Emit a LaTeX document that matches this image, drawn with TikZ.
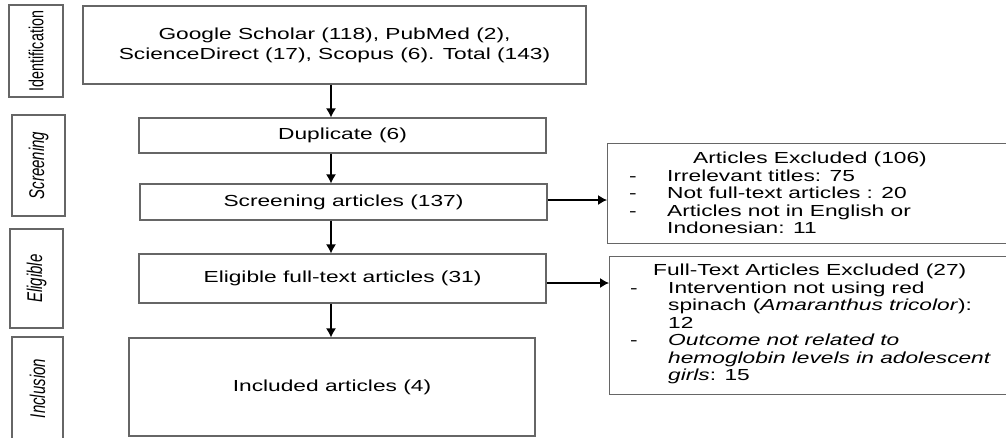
\documentclass[tikz,border=0pt]{standalone}
\usepackage{fontspec}
\setmainfont{Liberation Sans}[FakeStretch=1.42]
\usetikzlibrary{arrows.meta,positioning}
\tikzset{
	flowbox/.style={draw=black!60, line width=1.2pt, inner sep=0pt, align=center, font=\fontsize{16}{20}\selectfont},
	sidebox/.style={draw=black!60, line width=1.2pt, inner sep=0pt, rotate=90, font=\fontsize{15}{18}\selectfont},
	exbox/.style={draw=black!60, line width=1.2pt, inner sep=0pt, anchor=north west},
	extext/.style={inner sep=0pt, align=left, anchor=north west, font=\fontsize{16}{17.5}\selectfont},
	flowarrow/.style={-{Latex[length=9pt,width=10pt]}, line width=1.2pt}
}
\newfontfamily\sidefont{Liberation Sans}
\newcommand{\sidelabel}[1]{\scalebox{1}[1.42]{\sidefont #1}}
\newcommand{\exdash}{\makebox[38pt][l]{-}}
\newcommand{\exgap}{\hspace*{38pt}}
\begin{document}
\begin{tikzpicture}[x=1pt,y=-1pt]
	\useasboundingbox (0,0) rectangle (1006,437);
	% stage labels
	\node[sidebox, minimum width=92pt, minimum height=54pt] (sideid) at (36,51) {\sidelabel{\fontsize{14.3}{17}\selectfont Identification}};
	\node[sidebox, minimum width=101pt, minimum height=53pt] (sidescr) at (38.5,165.5) {\sidelabel{\itshape Screening}};
	\node[sidebox, minimum width=99pt, minimum height=53pt] (sideelig) at (36.5,278.5) {\sidelabel{\itshape Eligible}};
	\node[sidebox, minimum width=103pt, minimum height=51pt] (sideincl) at (37.5,388.5) {\sidelabel{\itshape Inclusion}};
	% flow
	\node[flowbox, minimum width=503pt, minimum height=78pt] (google) at (334.5,45) {Google Scholar (118), PubMed (2),\\ScienceDirect (17), Scopus (6). Total (143)};
	\node[flowbox, minimum width=407pt, minimum height=35pt] (dup) at (342.5,135.5) {Duplicate (6)};
	\node[flowbox, minimum width=407pt, minimum height=36pt] (scr) at (343.5,202) {Screening articles (137)};
	\node[flowbox, minimum width=407pt, minimum height=49pt] (elig) at (342.5,278.5) {Eligible full-text articles (31)};
	\node[flowbox, minimum width=406pt, minimum height=98pt] (incl) at (332,387) {Included articles (4)};
	% excluded
	\node[exbox, minimum width=410pt, minimum height=100pt] (exc1) at (607,143) {};
	\node[extext] (exc1txt) at (629,152) {\hspace*{64pt}Articles Excluded (106)\\
		\exdash Irrelevant titles: 75\\
		\exdash Not full-text articles : 20\\
		\exdash Articles not in English or\\
		\exgap Indonesian: 11};
	\node[exbox, minimum width=410pt, minimum height=138pt] (exc2) at (609,256) {};
	\node[extext] (exc2txt) at (630,264) {\hspace*{23pt}Full-Text Articles Excluded (27)\\
		\exdash Intervention not using red\\
		\exgap spinach (\textit{Amaranthus tricolor}):\\
		\exgap 12\\
		\exdash \textit{Outcome not related to}\\
		\exgap \textit{hemoglobin levels in adolescent}\\
		\exgap \textit{girls}: 15};
	% arrows
	\coordinate (spine) at (331,0);
	\draw[flowarrow] (google.south -| spine) -- (dup.north -| spine);
	\draw[flowarrow] (dup.south -| spine) -- (scr.north -| spine);
	\draw[flowarrow] (scr.south -| spine) -- (elig.north -| spine);
	\draw[flowarrow] (elig.south -| spine) -- (incl.north -| spine);
	\draw[flowarrow] ([yshift=2pt]scr.east) -- ([yshift=2pt]scr.east -| exc1.west);
	\draw[flowarrow] ([yshift=-4.5pt]elig.east) -- ([yshift=-4.5pt]elig.east -| exc2.west);
\end{tikzpicture}
\end{document}
